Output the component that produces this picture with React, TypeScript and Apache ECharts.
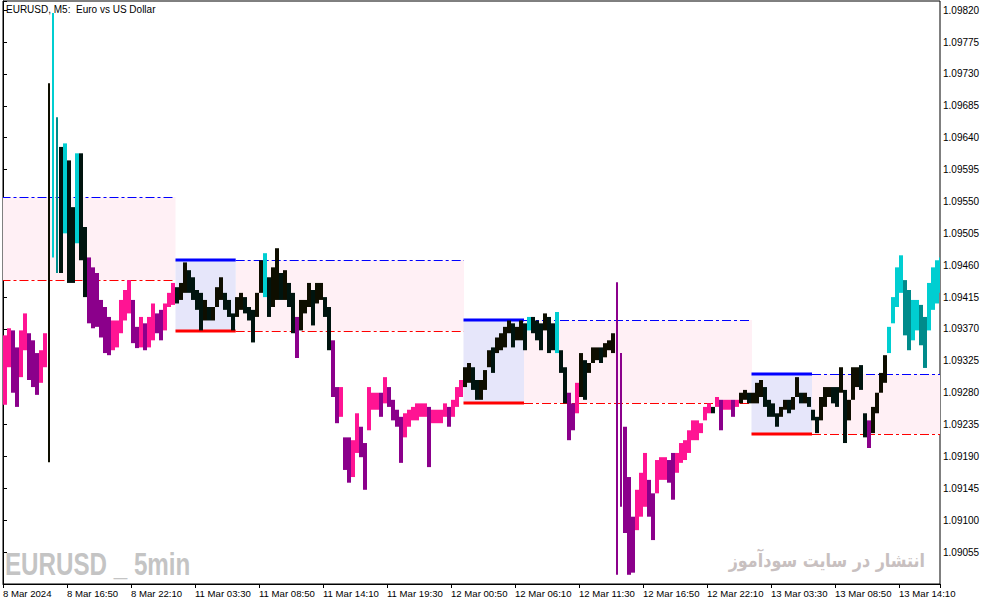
import React, { useEffect, useRef } from "react";
import * as echarts from "echarts";

// Time axis labels (one label every 64 M5 bars)
const timeLabels = [
  "8 Mar 2024", "8 Mar 16:50", "8 Mar 22:10", "11 Mar 03:30", "11 Mar 08:50",
  "11 Mar 14:10", "11 Mar 19:30", "12 Mar 00:50", "12 Mar 06:10", "12 Mar 11:30",
  "12 Mar 16:50", "12 Mar 22:10", "13 Mar 03:30", "13 Mar 08:50", "13 Mar 14:10",
];

// Price in points above 1.09000 (price = 1.09 + pts / 100000); one entry = 4 M5 bars
const highPts = [
  361, 371, 368, 344, 368, 392, 364, 354, 336, 340,
  364, 717, 816, 669, 627, 632, 608, 542, 618, 618,
  514, 471, 457, 449, 411, 401, 387, 382, 382, 411,
  425, 439, 411, 373, 387, 378, 387, 406, 392, 397,
  406, 421, 435, 429, 435, 464, 453, 443, 425, 421,
  411, 401, 401, 429, 443, 421, 411, 392, 415, 421,
  415, 401, 397, 421, 467, 477, 443, 457, 484, 449,
  453, 435, 421, 387, 411, 411, 435, 425, 435, 435,
  415, 401, 354, 288, 288, 217, 217, 213, 251, 232,
  209, 288, 280, 280, 280, 302, 288, 270, 256, 246,
  251, 256, 260, 265, 265, 265, 260, 256, 256, 256,
  265, 260, 270, 288, 298, 316, 322, 316, 298, 298,
  312, 340, 344, 358, 364, 373, 382, 378, 373, 382,
  378, 387, 387, 382, 378, 392, 387, 378, 394, 340,
  316, 280, 265, 294, 336, 326, 322, 344, 344, 344,
  350, 354, 364, 436, 336, 232, 161, 105, 143, 167,
  195, 157, 138, 185, 189, 189, 185, 195, 195, 209,
  213, 227, 241, 241, 237, 260, 265, 260, 274, 270,
  270, 270, 270, 270, 280, 284, 280, 280, 294, 298,
  288, 270, 265, 251, 260, 270, 270, 274, 302, 280,
  280, 274, 256, 246, 274, 288, 288, 288, 288, 316,
  284, 270, 316, 316, 319, 251, 241, 260, 280, 308,
  333, 373, 415, 457, 474, 439, 425, 411, 411, 404,
  387, 435, 457, 467, 471,
];
const lowPts = [
  263, 316, 280, 260, 302, 340, 298, 288, 277, 294,
  316, 182, 471, 449, 449, 505, 435, 435, 491, 467,
  415, 378, 371, 373, 358, 336, 333, 340, 344, 364,
  382, 392, 350, 343, 344, 340, 344, 354, 364, 354,
  368, 401, 404, 406, 411, 421, 421, 411, 397, 368,
  382, 382, 382, 401, 411, 397, 387, 368, 387, 397,
  392, 382, 351, 387, 421, 415, 387, 401, 411, 411,
  411, 401, 364, 329, 368, 392, 401, 375, 406, 411,
  387, 340, 274, 237, 246, 171, 153, 161, 195, 189,
  143, 227, 256, 256, 246, 265, 260, 241, 232, 181,
  217, 232, 241, 241, 246, 246, 175, 237, 237, 237,
  246, 232, 246, 260, 274, 288, 294, 284, 270, 270,
  284, 316, 308, 336, 340, 344, 364, 344, 354, 354,
  340, 368, 364, 354, 340, 368, 336, 340, 336, 308,
  265, 213, 227, 251, 274, 270, 308, 322, 326, 322,
  330, 340, 336, 23, 119, 82, 23, 26, 86, 105,
  119, 105, 72, 138, 157, 157, 153, 129, 167, 181,
  185, 195, 213, 213, 223, 241, 251, 251, 260, 227,
  256, 256, 246, 260, 265, 270, 265, 265, 265, 274,
  260, 246, 246, 232, 246, 256, 251, 256, 274, 265,
  265, 260, 241, 223, 241, 260, 274, 265, 260, 280,
  209, 241, 270, 288, 284, 217, 202, 223, 251, 280,
  294, 336, 378, 401, 421, 361, 340, 354, 368, 347,
  315, 368, 397, 406, 421,
];

// Position of each bucket relative to the session range: P below, K inside, C above
const regimeRuns: [string, number][] = [
  ["P", 11], ["K", 1], ["C", 2], ["K", 1], ["C", 1], ["K", 2], ["C", 1], ["K", 2],
  ["P", 22], ["K", 22], ["C", 1], ["K", 7], ["P", 1], ["K", 8], ["P", 33], ["K", 16],
  ["C", 1], ["K", 6], ["C", 1], ["K", 2], ["P", 3], ["K", 9], ["P", 24], ["K", 1],
  ["P", 6], ["K", 32], ["P", 1], ["K", 4], ["C", 14],
];

// Session range boxes (x in M5 bars from the first bar, prices in pts above 1.09000)
const rangeStart = [-115.5, 172.5, 460.5, 748.5];
const rangeBoxEnd = [-55.5, 232.7, 521, 809];
const rangeExtEnd = [172.5, 461, 749, 937];
const rangeHigh = [557, 467, 382, 306];
const rangeLow = [439, 367, 266, 222];

const BASE = 10; // axis value 0 == 1.09010
const BUCKET = 4;
const FONT = "'Liberation Sans', Arial, sans-serif";

const palette = ["#FF1493", "#8B008B", "#0E0E00", "#00140F", "#00CED1", "#008B8B"];

export default function App() {
  const ref = useRef<HTMLDivElement>(null);
  useEffect(() => {
    const chart = echarts.init(ref.current!, null, { renderer: "svg" });
    const regimes: string[] = [];
    regimeRuns.forEach(([r, n]) => {
      for (let k = 0; k < n; k++) regimes.push(r);
    });
    const barData = highPts.map((h, i) => {
      const lo = lowPts[i];
      const mid = (h + lo) / 2;
      const prevMid = i > 0 ? (highPts[i - 1] + lowPts[i - 1]) / 2 : mid;
      const down = mid < prevMid ? 1 : 0;
      const code = ["P", "K", "C"].indexOf(regimes[i] || "K") * 2 + down;
      return [i * BUCKET + BUCKET / 2, lo - BASE, h - BASE, code];
    });
    const rangeData = rangeStart.map((s, i) => [
      s, rangeBoxEnd[i], rangeExtEnd[i], rangeHigh[i] - BASE, rangeLow[i] - BASE,
    ]);

    chart.setOption({
      animation: false,
      backgroundColor: "#ffffff",
      grid: {
        left: 3, right: 54, top: 1, bottom: 21,
        show: true, borderColor: "#000", borderWidth: 1, backgroundColor: "#fff",
      },
      xAxis: {
        type: "value", min: 0, max: 937, interval: 64,
        axisLine: { show: true, lineStyle: { color: "#000", width: 1 } },
        axisTick: { show: true, length: 4, lineStyle: { color: "#000" } },
        splitLine: { show: false },
        axisLabel: {
          show: true, align: "left", margin: 4, color: "#000",
          fontFamily: FONT, fontSize: 9.6,
          showMinLabel: true, showMaxLabel: true,
          formatter: (v: number) => (v % 64 === 0 && timeLabels[v / 64]) ? timeLabels[v / 64] : "",
        },
      },
      yAxis: {
        type: "value", position: "right", min: 0, max: 823, interval: 45,
        axisLine: { show: true, lineStyle: { color: "#000", width: 1 } },
        axisTick: { show: true, length: 4, lineStyle: { color: "#000" } },
        splitLine: { show: false },
        axisLabel: {
          show: true, margin: 3, color: "#000", fontFamily: FONT, fontSize: 10,
          formatter: (v: number) => (v > 0 && v % 45 === 0) ? (1.0901 + v / 100000).toFixed(5) : "",
        },
      },
      graphic: [
        {
          type: "text", x: 6, y: 4, z: 100,
          style: { text: "EURUSD, M5:  Euro vs US Dollar", fill: "#000", fontFamily: FONT, fontSize: 10, align: "left", verticalAlign: "top" },
        },
        {
          type: "text", x: 5, y: 549, z: 100, scaleX: 0.78,
          style: { text: "EURUSD _ 5min", fill: "#C4C4C4", fontFamily: FONT, fontWeight: "bold", fontSize: 31, align: "left", verticalAlign: "top" },
        },
        {
          type: "text", x: 925, y: 551, z: 100, scaleX: 0.84,
          style: { text: "انتشار در سایت سودآموز", fill: "#C8C0C0", fontFamily: "'DejaVu Sans', sans-serif", fontWeight: "bold", fontSize: 19, align: "right", verticalAlign: "top" },
        },
      ],
      series: [
        {
          type: "custom", name: "ranges", clip: true, z: 1,
          encode: { x: [0, 1, 2], y: [3, 4] },
          data: rangeData,
          renderItem: (params: any, api: any) => {
            const s = api.value(0), be = api.value(1), ee = api.value(2);
            const hi = api.value(3), lo = api.value(4);
            const pS = api.coord([s, hi]);
            const pB = api.coord([be, lo]);
            const pE = api.coord([ee, lo]);
            const yH = Math.round(pS[1]);
            const yL = Math.round(pB[1]);
            const dash = [9, 3, 3, 3];
            return {
              type: "group",
              children: [
                { type: "rect", shape: { x: pB[0], y: yH, width: pE[0] - pB[0], height: yL - yH }, style: { fill: "#FFF0F5" } },
                { type: "rect", shape: { x: pS[0], y: yH, width: pB[0] - pS[0], height: yL - yH }, style: { fill: "#E6E6FA" } },
                { type: "line", shape: { x1: pB[0], y1: yH + 0.5, x2: pE[0], y2: yH + 0.5 }, style: { stroke: "#0000FF", lineWidth: 1, lineDash: dash } },
                { type: "line", shape: { x1: pB[0], y1: yL + 0.5, x2: pE[0], y2: yL + 0.5 }, style: { stroke: "#FF0000", lineWidth: 1, lineDash: dash } },
                { type: "line", shape: { x1: pS[0], y1: yH, x2: pB[0], y2: yH }, style: { stroke: "#0000FF", lineWidth: 3 } },
                { type: "line", shape: { x1: pS[0], y1: yL, x2: pB[0], y2: yL }, style: { stroke: "#FF0000", lineWidth: 3 } },
              ],
            };
          },
        },
        {
          type: "custom", name: "EURUSD", clip: true, z: 2,
          encode: { x: 0, y: [1, 2] },
          data: barData,
          renderItem: (params: any, api: any) => {
            const x = api.value(0), lo = api.value(1), hi = api.value(2), c = api.value(3);
            const pH = api.coord([x, hi]);
            const pL = api.coord([x, lo]);
            const tall = pL[1] - pH[1] > 150;
            const w = tall ? 2 : 4;
            return {
              type: "rect",
              shape: { x: pH[0] - w / 2, y: pH[1], width: w, height: Math.max(1, pL[1] - pH[1]) },
              style: { fill: palette[c] },
            };
          },
        },
      ],
    });
    return () => chart.dispose();
  }, []);
  return (
    <div
      ref={ref}
      style={{ position: "fixed", left: 0, top: 0, width: 994, height: 605, background: "#fff" }}
    />
  );
}
